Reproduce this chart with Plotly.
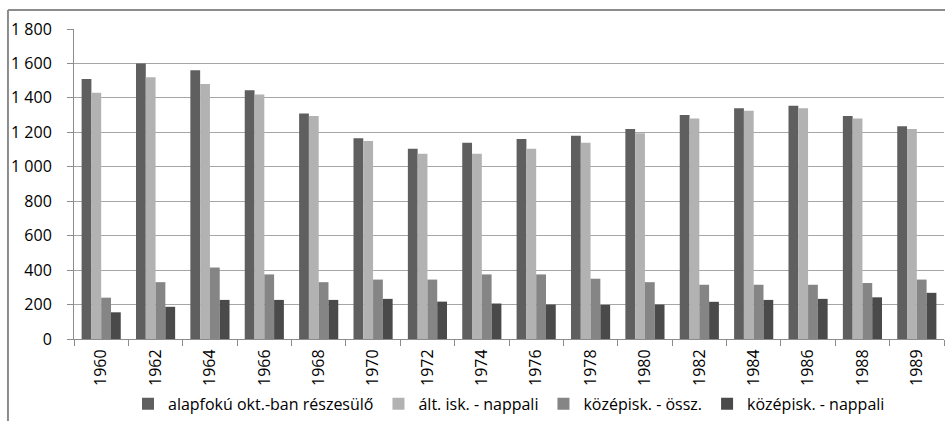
import plotly.graph_objects as go

years = ["1960", "1962", "1964", "1966", "1968", "1970", "1972", "1974",
         "1976", "1978", "1980", "1982", "1984", "1986", "1988", "1989"]

alapfoku = [1510, 1600, 1560, 1445, 1310, 1165, 1105, 1140,
            1162, 1180, 1220, 1300, 1340, 1355, 1295, 1235]
alt_nappali = [1430, 1520, 1480, 1420, 1295, 1150, 1075, 1075,
               1105, 1140, 1195, 1280, 1325, 1340, 1280, 1220]
kozep_ossz = [240, 330, 415, 375, 330, 345, 345, 375,
              375, 350, 330, 315, 315, 315, 325, 345]
kozep_nappali = [155, 187, 227, 227, 227, 233, 217, 206,
                 200, 198, 200, 216, 227, 233, 242, 268]

series_names = ["alapfokú okt.-ban részesülő", "ált. isk. - nappali",
                "középisk. - össz.", "középisk. - nappali"]
series_values = [alapfoku, alt_nappali, kozep_ossz, kozep_nappali]
colors = ["#5f5f5f", "#b2b2b2", "#858585", "#4a4a4a"]

fig = go.Figure()
for name, vals, col in zip(series_names, series_values, colors):
    fig.add_trace(go.Bar(x=years, y=vals, name=name, marker_color=col,
                         marker_line_width=0))

font_family = "'Open Sans', sans-serif"

fig.update_layout(
    width=945, height=421,
    margin=dict(l=74, r=1, t=29, b=81),
    paper_bgcolor="white", plot_bgcolor="white",
    barmode="group", bargap=0.28, bargroupgap=0,
    font=dict(family=font_family, size=16, color="#000000"),
    legend=dict(orientation="h", x=0.5, xanchor="center", y=-0.205,
                yanchor="middle", font=dict(size=16), traceorder="normal",
                itemwidth=30, tracegroupgap=0),
    xaxis=dict(type="category", tickangle=-90, tickson="boundaries",
               ticks="outside", ticklen=6, tickcolor="#8c8c8c",
               showline=True, linecolor="#8c8c8c", linewidth=1,
               ticklabelstandoff=3,
               showgrid=False, tickfont=dict(size=16)),
    yaxis=dict(range=[0, 1800], dtick=200, separatethousands=True,
               showgrid=True, gridcolor="#a6a6a6", gridwidth=1,
               showline=True, linecolor="#8c8c8c", linewidth=1,
               ticks="outside", ticklen=6, tickcolor="#8c8c8c",
               ticklabelstandoff=12,
               tickfont=dict(size=16), zeroline=False),
    separators=". ",
    shapes=[
        dict(type="line", xref="paper", yref="paper",
             x0=-0.0759, x1=1.01, y0=1.061, y1=1.061,
             line=dict(color="#8c8c8c", width=2)),
        dict(type="line", xref="paper", yref="paper",
             x0=-0.0759, x1=-0.0759, y0=1.061, y1=-0.27,
             line=dict(color="#8c8c8c", width=2)),
    ],
)

fig.write_html(
    "out.html",
    config={"displayModeBar": False},
    post_script="document.body.style.margin='0px';"
                "document.body.style.overflow='hidden';",
)
